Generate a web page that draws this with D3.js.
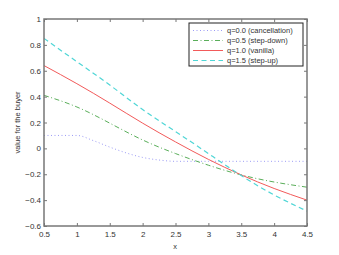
<!DOCTYPE html>
<html lang="en">
	<head>
		<meta charset="utf-8">
		<title>value for the buyer</title>
		<script type="text/javascript" src="https://cdn.jsdelivr.net/npm/d3@7"></script>
		<style type="text/css">
			body {
				margin: 0;
				background: white;
				font-family: "Liberation Sans", Arial, sans-serif;
			}
			.axis text {
				font-size: 8px;
				fill: #333;
			}
		</style>
	</head>
	<body>
		<script type="text/javascript">

			//Data
			var xs = [0.5, 1.0, 1.5, 2.0, 2.5, 3.0, 3.5, 4.0, 4.5];
			var xsFine = [0.5, 0.75, 1.0, 1.25, 1.5, 1.75, 2.0, 2.25, 2.5, 3.0, 3.5, 4.0, 4.5];
			var cancellation = [0.10, 0.10, 0.10, 0.06, 0.01, -0.035, -0.07, -0.09, -0.10, -0.10, -0.10, -0.10, -0.10];
			var stepDown = [0.41, 0.32, 0.195, 0.065, -0.04, -0.13, -0.205, -0.26, -0.30];
			var vanilla = [0.64, 0.50, 0.35, 0.195, 0.05, -0.085, -0.205, -0.31, -0.40];
			var stepUp = [0.85, 0.67, 0.49, 0.30, 0.13, -0.04, -0.21, -0.36, -0.485];
			var seriesNames = ["q=0.0 (cancellation)", "q=0.5 (step-down)", "q=1.0 (vanilla)", "q=1.5 (step-up)"];
			var xTicks = [0.5, 1, 1.5, 2, 2.5, 3, 3.5, 4, 4.5];
			var yTicks = [-0.6, -0.4, -0.2, 0, 0.2, 0.4, 0.6, 0.8, 1];

			var w = 339;
			var h = 255;
			var pLeft = 44, pRight = 307, pTop = 19, pBottom = 226;

			var series = [
				{ name: seriesNames[0], x: xsFine, y: cancellation, color: "#9b9bf5", dash: "1,2.5", width: 1, curve: d3.curveMonotoneX },
				{ name: seriesNames[1], x: xs, y: stepDown, color: "#5aae5a", dash: "5,2.5,1,2.5", width: 1, curve: d3.curveNatural },
				{ name: seriesNames[2], x: xs, y: vanilla, color: "#f25a5a", dash: null, width: 1, curve: d3.curveNatural },
				{ name: seriesNames[3], x: xs, y: stepUp, color: "#4fd6d6", dash: "5,3.5", width: 1.2, curve: d3.curveNatural }
			];

			var xScale = d3.scaleLinear().domain([0.5, 4.5]).range([pLeft, pRight]);
			var yScale = d3.scaleLinear().domain([-0.6, 1]).range([pBottom, pTop]);

			var svg = d3.select("body")
						.append("svg")
						.attr("width", w)
						.attr("height", h);

			//Lines
			svg.selectAll("path.series")
			   .data(series)
			   .enter()
			   .append("path")
			   .attr("class", "series")
			   .attr("d", function(s) {
			   		var line = d3.line()
			   					 .x(function(d) { return xScale(d[0]); })
			   					 .y(function(d) { return yScale(d[1]); })
			   					 .curve(s.curve);
			   		return line(s.x.map(function(v, i) { return [v, s.y[i]]; }));
			   })
			   .attr("fill", "none")
			   .attr("stroke", function(s) { return s.color; })
			   .attr("stroke-width", function(s) { return s.width; })
			   .attr("stroke-dasharray", function(s) { return s.dash; });

			//Axes, ticks pointing inwards on all four sides
			var fmt = function(d) { return d3.format("~g")(d); };

			svg.append("g")
			   .attr("class", "axis")
			   .attr("transform", "translate(0," + pBottom + ")")
			   .call(d3.axisBottom(xScale).tickValues(xTicks).tickSize(-3).tickPadding(5).tickFormat(fmt));

			svg.append("g")
			   .attr("class", "axis")
			   .attr("transform", "translate(0," + pTop + ")")
			   .call(d3.axisTop(xScale).tickValues(xTicks).tickSize(-3).tickFormat(""));

			svg.append("g")
			   .attr("class", "axis")
			   .attr("transform", "translate(" + pLeft + ",0)")
			   .call(d3.axisLeft(yScale).tickValues(yTicks).tickSize(-3).tickPadding(3).tickFormat(fmt));

			svg.append("g")
			   .attr("class", "axis")
			   .attr("transform", "translate(" + pRight + ",0)")
			   .call(d3.axisRight(yScale).tickValues(yTicks).tickSize(-3).tickFormat(""));

			svg.selectAll(".axis .domain").remove();
			svg.selectAll(".axis line").attr("stroke", "#777");

			//Box
			svg.append("rect")
			   .attr("x", pLeft)
			   .attr("y", pTop)
			   .attr("width", pRight - pLeft)
			   .attr("height", pBottom - pTop)
			   .attr("fill", "none")
			   .attr("stroke", "#777")
			   .attr("stroke-width", 1.5);

			//Axis labels
			svg.append("text")
			   .attr("x", 175)
			   .attr("y", 249)
			   .attr("text-anchor", "middle")
			   .attr("font-size", "7.5px")
			   .attr("fill", "#333")
			   .text("x");

			svg.append("text")
			   .attr("transform", "translate(20," + ((pTop + pBottom) / 2) + ") rotate(-90)")
			   .attr("text-anchor", "middle")
			   .attr("font-size", "7.5px")
			   .attr("fill", "#333")
			   .text("value for the buyer");

			//Legend
			var legend = svg.append("g").attr("transform", "translate(189,23)");

			legend.append("rect")
			      .attr("width", 114)
			      .attr("height", 43)
			      .attr("fill", "white")
			      .attr("stroke", "#222")
			      .attr("stroke-width", 1);

			var items = legend.selectAll("g.item")
			      .data(series)
			      .enter()
			      .append("g")
			      .attr("class", "item")
			      .attr("transform", function(d, i) { return "translate(0," + (7.5 + i * 10) + ")"; });

			items.append("line")
			     .attr("x1", 4)
			     .attr("x2", 34)
			     .attr("stroke", function(s) { return s.color; })
			     .attr("stroke-width", function(s) { return s.width; })
			     .attr("stroke-dasharray", function(s) { return s.dash; });

			items.append("text")
			     .attr("x", 38)
			     .attr("y", 2.5)
			     .attr("font-size", "7.5px")
			     .attr("fill", "#333")
			     .text(function(s) { return s.name; });

		</script>
	</body>
</html>
